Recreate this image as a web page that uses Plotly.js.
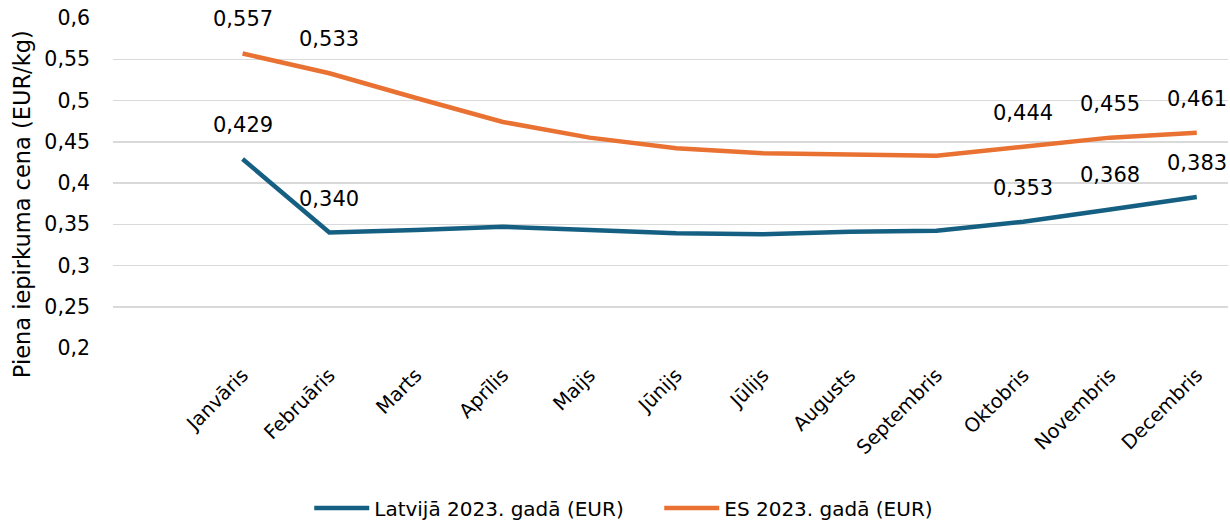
<!DOCTYPE html>
<html>
<head>
<meta charset="utf-8">
<script src="https://cdn.plot.ly/plotly-3.0.1.min.js"></script>
<style>html,body{margin:0;padding:0;background:#fff;}#chart{width:1230px;height:522px;}</style>
</head>
<body>
<div id="chart"></div>
<script>
const months = ["Janvāris","Februāris","Marts","Aprīlis","Maijs","Jūnijs","Jūlijs","Augusts","Septembris","Oktobris","Novembris","Decembris"];
const latvia = [0.429,0.340,0.343,0.347,0.343,0.339,0.338,0.341,0.342,0.353,0.368,0.383];
const eu = [0.557,0.533,0.503,0.474,0.455,0.442,0.436,0.434,0.433,0.444,0.455,0.461];
const labelledMonths = [0,1,9,10,11];
const seriesNames = ["Latvijā 2023. gadā (EUR)","ES 2023. gadā (EUR)"];
const yTitle = "Piena iepirkuma cena (EUR/kg)";

const FONT = "DejaVu Sans, Verdana, sans-serif";
const colors = ["#156082","#E97132"];

const traces = [latvia, eu].map((vals,i)=>({
  type:"scatter", mode:"lines", x:months, y:vals, name:seriesNames[i],
  line:{color:colors[i], width:4.5}, hoverinfo:"skip"
}));

const annotations = [];
[latvia, eu].forEach(vals=>{
  labelledMonths.forEach(k=>{
    annotations.push({
      x:months[k], y:vals[k], xref:"x", yref:"y",
      text:vals[k].toFixed(3).replace(".", ","),
      showarrow:false, yshift:34, xanchor:"center", yanchor:"middle",
      font:{family:FONT, size:21, color:"#000"}
    });
  });
});
// y-axis title (placed as annotation to match its offset position)
annotations.push({
  text:yTitle, xref:"paper", yref:"paper", x:-0.0816, y:0.436,
  xanchor:"center", yanchor:"middle", textangle:-90, showarrow:false,
  font:{family:FONT, size:22.5, color:"#000"}
});

const layout = {
  width:1230, height:522,
  margin:{l:113, r:2, t:18, b:174, autoexpand:false},
  paper_bgcolor:"#fff", plot_bgcolor:"#fff",
  separators:", ",
  showlegend:true,
  font:{family:FONT, color:"#000"},
  xaxis:{
    type:"category", range:[-1.494, 11.36], automargin:false,
    showgrid:false, zeroline:false, showline:false, ticks:"",
    tickangle:-45, tickfont:{family:FONT, size:19.5, color:"#000"},
    ticklabelstandoff:11
  },
  yaxis:{
    range:[0.2,0.6], dtick:0.05, tick0:0.2, automargin:false,
    showgrid:true, gridcolor:"#d9d9d9", gridwidth:1.5,
    zeroline:false, showline:false, ticks:"",
    tickfont:{family:FONT, size:20.5, color:"#000"},
    ticklabelstandoff:22
  },
  legend:{
    orientation:"h", x:0.176, xanchor:"left", y:-0.485, yanchor:"middle",
    font:{family:FONT, size:20, color:"#000"}, itemwidth:55, entrywidth:280, entrywidthmode:"pixels",
    traceorder:"normal"
  },
  annotations:annotations
};

Plotly.newPlot("chart", traces, layout, {staticPlot:true, displayModeBar:false});
</script>
</body>
</html>
